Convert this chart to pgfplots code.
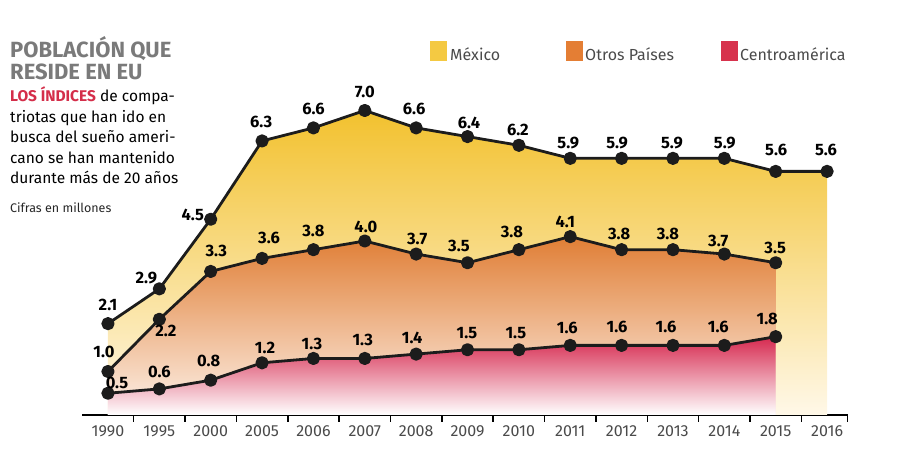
\documentclass[border=0pt]{standalone}
\usepackage{pgfplots}
\pgfplotsset{compat=1.18}
\usepackage{pgfplotstable}
\usepackage{fontspec}
\setmainfont{Fira Sans}

\definecolor{mexTop}{HTML}{F2C12E}
\definecolor{mexMid}{HTML}{F5D35E}
\definecolor{mexBot}{HTML}{FFF8E8}
\definecolor{otrTop}{HTML}{E07E35}
\definecolor{otrMid}{HTML}{EDB48C}
\definecolor{otrBot}{HTML}{FDF2EA}
\definecolor{cenTop}{HTML}{D6294F}
\definecolor{cenMid}{HTML}{E78199}
\definecolor{cenBot}{HTML}{FFFFFF}
\definecolor{lineblk}{HTML}{1C1C1C}
\definecolor{titlegray}{HTML}{7A7A7A}
\definecolor{txtgray}{HTML}{4A4A4A}
\definecolor{hired}{HTML}{D42E4A}
\definecolor{legY}{HTML}{F4C942}
\definecolor{legO}{HTML}{E47E34}
\definecolor{legR}{HTML}{D7324D}

% x: 0 = 1990, 1 = 1995, 2 = 2000, 3..14 = 2005..2016
% dx, dy: label offsets in pt
\pgfplotstableread{
x y dx dy
0 2.1 0 18.5
1 2.9 -13 11
2 4.5 -18 4
3 6.3 -1 19.5
4 6.6 0 19
5 7.0 0 18.5
6 6.6 -2 19
7 6.4 1.5 14
8 6.2 -1 15
9 5.9 -2 15
10 5.9 -4.5 15.5
11 5.9 -1 15
12 5.9 0.5 15.5
13 5.6 0.5 21.5
14 5.6 -1 21.5
}\mexico

\pgfplotstableread{
x y dx dy
0 1.0 -4 20
1 2.2 6.5 -12
2 3.3 5.5 21
3 3.6 7 20
4 3.8 0 19
5 4.0 1 14
6 3.7 1 15.5
7 3.5 -8.5 17
8 3.8 -7 18
9 4.1 -5 15
10 3.8 -2.5 16
11 3.8 -5 16
12 3.7 -6 13
13 3.5 -0.5 15
}\otros

\pgfplotstableread{
x y dx dy
0 0.5 9 10
1 0.6 0 17
2 0.8 -2 19.5
3 1.2 3 15
4 1.3 -1.5 14.5
5 1.3 -2 19
6 1.4 -4 16.5
7 1.5 -0.5 17
8 1.5 -3 17
9 1.6 -3 17
10 1.6 -4.5 18
11 1.6 -7 18
12 1.6 -6 18
13 1.8 -8.5 17.5
}\centro

\pgfplotsset{
  serie/.style={lineblk, line width=2.8pt, line join=round, line cap=round,
    mark=*, mark size=5.2pt,
    mark options={fill=lineblk, draw=none},
    point meta=y,
    visualization depends on={\thisrow{dx}\as\dx},
    visualization depends on={\thisrow{dy}\as\dy},
    nodes near coords={\pgfmathprintnumber[fixed,fixed zerofill,precision=1,assume math mode=true]{\pgfplotspointmeta}},
    nodes near coords style={anchor=base, inner sep=0pt, xshift=\dx pt, yshift=\dy pt-5.6pt,
      font=\fontsize{16.5}{16.5}\selectfont\bfseries, text=black}},
}

\begin{document}
\begin{tikzpicture}
\path[use as bounding box] (0,0) rectangle (900pt,465pt);

\begin{axis}[
  at={(82.3pt,50pt)}, anchor=south west,
  scale only axis, width=765.3pt, height=348pt,
  xmin=-0.5, xmax=14.4, ymin=0, ymax=8,
  axis x line*=bottom, axis y line=none,
  axis line style={line width=1.5pt, black},
  clip=false,
  xtick={0,...,14},
  xticklabels={1990,1995,2000,2005,2006,2007,2008,2009,2010,2011,2012,2013,2014,2015,2016},
  xticklabel style={font=\fontsize{16}{16}\selectfont, text=txtgray, yshift=-7.5pt},
  major tick length=0pt,
  minor xtick={0.5,1.5,2.5,3.5,4.5,5.5,6.5,7.5,8.5,9.5,10.5,11.5,12.5,13.5,14.4},
  minor tick length=7pt,
  tick align=outside,
  minor tick style={line width=1.5pt, black},
]
\addplot[draw=none, top color=mexTop, middle color=mexMid, bottom color=mexBot] table[x=x,y=y] {\mexico} \closedcycle;
\addplot[draw=none, top color=otrTop, middle color=otrMid, bottom color=otrBot] table[x=x,y=y] {\otros} \closedcycle;
\addplot[draw=none, top color=cenTop, middle color=cenMid, bottom color=cenBot] table[x=x,y=y] {\centro} \closedcycle;

\addplot[serie] table[x=x,y=y] {\mexico};
\addplot[serie] table[x=x,y=y] {\otros};
\addplot[serie] table[x=x,y=y] {\centro};
\end{axis}

% title and text
\node[anchor=base west, inner sep=0pt, text=titlegray, font=\fontsize{22}{22}\selectfont\bfseries] at (10pt,407pt) {POBLACIÓN QUE};
\node[anchor=base west, inner sep=0pt, text=titlegray, font=\fontsize{22}{22}\selectfont\bfseries] at (10pt,385pt) {RESIDE EN EU};
\begin{scope}[every node/.style={anchor=base west, inner sep=0pt, text=black, font=\fontsize{15.5}{15.5}\selectfont}]
\node at (10pt,363.3pt) {\textcolor{hired}{\bfseries LOS ÍNDICES} de compa-};
\node at (10pt,342.8pt) {triotas que han ido en};
\node at (10pt,322.3pt) {busca del sueño ameri-};
\node at (10pt,301.8pt) {cano se han mantenido};
\node at (10pt,281.3pt) {durante más de 20 años};
\end{scope}
\node[anchor=base west, inner sep=0pt, text=black!85, font=\fontsize{12.5}{12.5}\selectfont] at (10pt,252.3pt) {Cifras en millones};

% legend
\fill[legY] (430pt,404.3pt) rectangle (447.3pt,424.3pt);
\fill[legO] (565.7pt,404.3pt) rectangle (582.7pt,424.3pt);
\fill[legR] (720.7pt,404.3pt) rectangle (737.7pt,424.3pt);
\begin{scope}[every node/.style={anchor=base west, inner sep=0pt, text=txtgray, font=\fontsize{16}{16}\selectfont}]
\node at (450pt,404.3pt) {México};
\node at (585pt,404.3pt) {Otros Países};
\node at (740pt,404.3pt) {Centroamérica};
\end{scope}
\end{tikzpicture}
\end{document}
